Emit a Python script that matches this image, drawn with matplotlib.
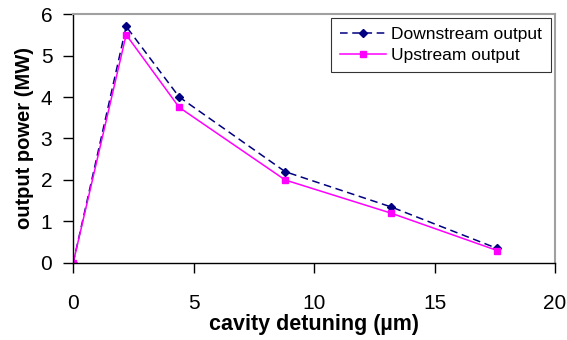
import numpy as np
import matplotlib.pyplot as plt

plt.rcParams['font.family'] = ['Liberation Sans', 'DejaVu Sans']

# cavity detuning (um)
detuning = [0, 2.2, 4.4, 8.8, 13.2, 17.6]
# output power (MW)
downstream = [0, 5.7, 4.0, 2.2, 1.35, 0.35]
upstream = [0, 5.5, 3.75, 2.0, 1.2, 0.3]

fig = plt.figure(figsize=(5.67, 3.40), dpi=100)
ax = fig.add_axes([0.129, 0.2265, 0.850, 0.7323])

ax.plot(detuning, downstream, color='#000080', linestyle=(0, (5, 3)), linewidth=1.1,
        marker='D', markersize=4, label='Downstream output')
ax.plot(detuning, upstream, color='#FF00FF', linestyle='-', linewidth=1.1,
        marker='s', markersize=5, label='Upstream output')

ax.set_xlim(0, 20)
ax.set_ylim(0, 6)
ax.set_xticks([0, 5, 10, 15, 20])
ax.set_yticks([0, 1, 2, 3, 4, 5, 6])

for side in ['top', 'right']:
    ax.spines[side].set_color('#a0a0a0')
    ax.spines[side].set_linewidth(1.5)
for side in ['left', 'bottom']:
    ax.spines[side].set_color('black')
    ax.spines[side].set_linewidth(1.0)

ax.tick_params(axis='x', direction='out', length=7, width=1, pad=15, labelsize=15)
ax.tick_params(axis='y', direction='out', length=7, width=1, pad=8, labelsize=15)

ax.set_xlabel('cavity detuning (\u00b5m)', fontsize=15.5, fontweight='bold', labelpad=1)
ax.set_ylabel('output power (MW)', fontsize=14.5, fontweight='bold', labelpad=5)

leg = ax.legend(loc='upper right', bbox_to_anchor=(0.992, 0.985), fontsize=12.5,
                frameon=True, fancybox=False, edgecolor='black', borderpad=0.55,
                handlelength=2.6, handletextpad=0.3, labelspacing=0.3, borderaxespad=0)
leg.get_frame().set_linewidth(0.8)

fig.savefig('out.png', dpi=100)
